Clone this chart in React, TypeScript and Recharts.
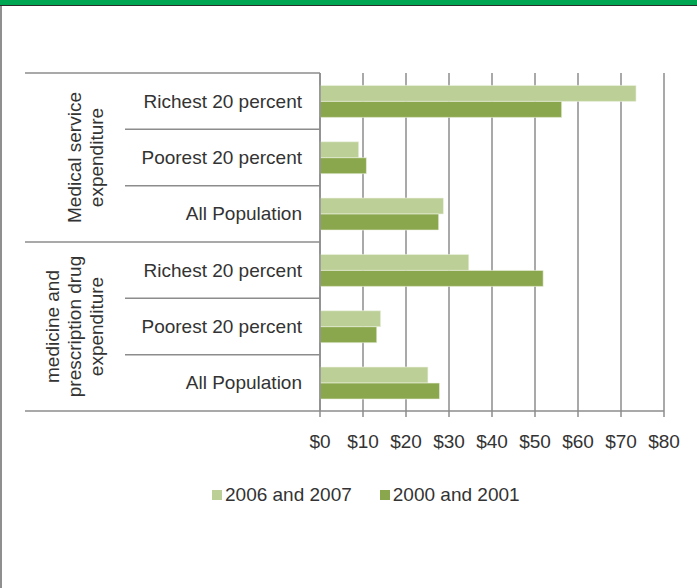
import { BarChart, Bar, XAxis, YAxis, CartesianGrid } from "recharts";

const groupLines = [
  ["Medical service", "expenditure"],
  ["medicine and", "prescription drug", "expenditure"],
];
const categories = [
  "Richest 20 percent",
  "Poorest 20 percent",
  "All Population",
  "Richest 20 percent",
  "Poorest 20 percent",
  "All Population",
];
const groupOf = [0, 0, 0, 1, 1, 1];
const seriesNames = ["2006 and 2007", "2000 and 2001"];
const values2006 = [73.5, 9.0, 28.7, 34.6, 14.1, 25.1];
const values2000 = [56.2, 10.8, 27.6, 51.9, 13.2, 27.8];
const xTicks = [0, 10, 20, 30, 40, 50, 60, 70, 80];

const colors = ["#bccf97", "#8ba74e"];
const gridColor = "#8c8c8c";
const textColor = "#333333";
const font = "'Liberation Sans', Arial, sans-serif";
const fontSize = 19;

const data = categories.map((label, i) => ({
  key: String(i),
  label,
  group: groupOf[i],
  s2006: values2006[i],
  s2000: values2000[i],
}));

function CategoryTick(props: any) {
  const { x, y, payload, index } = props;
  const half = payload && payload.offset ? payload.offset : 28;
  const row = data[index];
  const lastInGroup = index === data.length - 1 || data[index + 1].group !== row.group;
  const firstInGroup = index === 0;
  const middle = index % 3 === 1;
  const lines = groupLines[row.group];
  return (
    <g>
      <text
        x={x - 18}
        y={y}
        dy="0.35em"
        textAnchor="end"
        fill={textColor}
        fontSize={fontSize}
        fontFamily={font}
      >
        {row.label}
      </text>
      {firstInGroup && (
        <line x1={25} x2={x} y1={y - half} y2={y - half} stroke={gridColor} strokeWidth={1.5} />
      )}
      <line
        x1={lastInGroup ? 25 : 125}
        x2={x}
        y1={y + half}
        y2={y + half}
        stroke={gridColor}
        strokeWidth={1.5}
      />
      {middle &&
        lines.map((ln, i) => {
          const lx = 96 - (lines.length - 1 - i) * 22;
          return (
            <text
              key={i}
              x={lx}
              y={y}
              dy="0.35em"
              textAnchor="middle"
              transform={`rotate(-90, ${lx}, ${y})`}
              fill={textColor}
              fontSize={fontSize}
              fontFamily={font}
            >
              {ln}
            </text>
          );
        })}
    </g>
  );
}

export default function App() {
  return (
    <div
      style={{
        position: "absolute",
        left: 0,
        top: 0,
        width: 697,
        height: 588,
        background: "#fff",
        overflow: "hidden",
        fontFamily: font,
      }}
    >
      <div style={{ position: "absolute", left: 0, top: 0, width: 697, height: 5, background: "#00a651" }} />
      <div style={{ position: "absolute", left: 0, top: 5, width: 697, height: 1, background: "#2b2b2b" }} />
      <div style={{ position: "absolute", left: 0, top: 6, width: 2, height: 582, background: "#8f8f8f" }} />
      <div style={{ position: "absolute", left: 0, top: 0 }}>
        <BarChart
          width={697}
          height={460}
          data={data}
          layout="vertical"
          margin={{ top: 73, right: 33, left: 0, bottom: 0 }}
          barCategoryGap="22%"
          barGap={0}
        >
          <CartesianGrid vertical horizontal={false} stroke={gridColor} strokeWidth={1.5} />
          <XAxis
            type="number"
            domain={[0, 80]}
            ticks={xTicks}
            tickFormatter={(v) => `$${v}`}
            height={49}
            stroke={gridColor}
            strokeWidth={1.5}
            tickSize={6}
            tickMargin={18}
            tick={{ fill: textColor, fontSize, fontFamily: font }}
          />
          <YAxis
            type="category"
            dataKey="key"
            width={320}
            stroke={gridColor}
            strokeWidth={1.5}
            tickLine={false}
            tickSize={0}
            tickMargin={0}
            interval={0}
            tick={<CategoryTick />}
          />
          <Bar dataKey="s2006" name={seriesNames[0]} fill={colors[0]} stroke="#eef3e4" strokeWidth={0.6} isAnimationActive={false} />
          <Bar dataKey="s2000" name={seriesNames[1]} fill={colors[1]} stroke="#eef3e4" strokeWidth={0.6} isAnimationActive={false} />
        </BarChart>
      </div>
      <div
        style={{
          position: "absolute",
          left: 212,
          top: 484,
          display: "flex",
          alignItems: "center",
          fontSize,
          color: textColor,
          whiteSpace: "nowrap",
        }}
      >
        {seriesNames.map((n, i) => (
          <div key={n} style={{ display: "flex", alignItems: "center", marginRight: 28 }}>
            <span style={{ display: "inline-block", width: 10, height: 10, background: colors[i], marginRight: 3 }} />
            <span>{n}</span>
          </div>
        ))}
      </div>
    </div>
  );
}
